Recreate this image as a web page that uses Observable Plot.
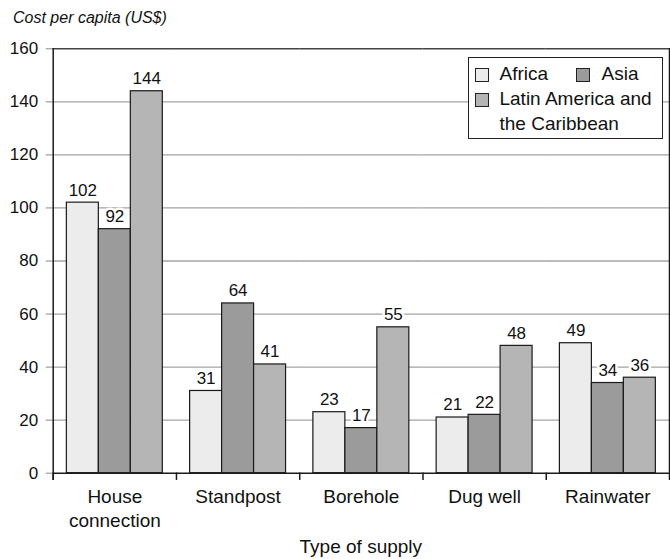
<!DOCTYPE html>
<html><head><meta charset="utf-8">
<script src="https://cdn.jsdelivr.net/npm/d3@7"></script>
<script src="https://cdn.jsdelivr.net/npm/@observablehq/plot@0.6"></script>
<style>
body{margin:0;background:#fff;}
#wrap{position:relative;width:670px;height:559px;font-family:"Liberation Sans",Arial,sans-serif;color:#111;overflow:hidden;}
#title{height:36px;font-style:italic;font-size:16px;line-height:18px;padding-left:13px;padding-top:9px;box-sizing:border-box;white-space:nowrap;}
#chart{height:490px;}
#xlabel{position:absolute;left:52.7px;width:616.3px;top:526px;padding-top:11px;font-size:19px;line-height:20px;text-align:center;}
#legend{position:absolute;left:467.7px;top:56.7px;width:195px;height:82.6px;border:1.5px solid #222;background:#fff;box-sizing:border-box;font-size:19px;}
#legend .sw{position:absolute;width:14px;height:14px;border:1px solid #222;box-sizing:border-box;}
#legend .lt{position:absolute;line-height:19px;white-space:nowrap;}
</style>
</head><body>
<div id="wrap">
  <div id="title">Cost per capita (US$)</div>
  <div id="chart"></div>
  <div id="xlabel"></div>
  <div id="legend"></div>
</div>
<script>
const categories = ["House connection", "Standpost", "Borehole", "Dug well", "Rainwater"];
const categoryLabels = ["House\nconnection", "Standpost", "Borehole", "Dug well", "Rainwater"];
const regions = ["Africa", "Asia", "Latin America and the Caribbean"];
const africa = [102, 31, 23, 21, 49];
const asia = [92, 64, 17, 22, 34];
const latinAmerica = [144, 41, 55, 48, 36];
const yTicks = [0, 20, 40, 60, 80, 100, 120, 140, 160];
const regionColors = ["#ececec", "#9b9b9b", "#b5b5b5"];
const xTitle = "Type of supply";

const series = [africa, asia, latinAmerica];
const rows = categories.flatMap((c, i) => regions.map((r, j) => ({type: c, region: r, value: series[j][i]})));

const H = 490, mT = 12.3, mB = 53.3, mL = 52.7, mR = 1;
const innerH = H - mT - mB;
const narrow = "'Liberation Sans Narrow', 'Arial Narrow', 'Liberation Sans', Arial, sans-serif";
const dark = "#1a1a1a";

const chart = Plot.plot({
  width: 670, height: H,
  marginTop: mT, marginBottom: mB, marginLeft: mL, marginRight: mR,
  style: {fontFamily: "'Liberation Sans', Arial, sans-serif", fontSize: "19px", color: "#111", background: "white", overflow: "visible"},
  fx: {domain: categories, padding: 0, round: false},
  x: {domain: regions, paddingInner: 0, paddingOuter: 0.427, round: false, axis: null},
  y: {domain: [0, 160]},
  color: {domain: regions, range: regionColors},
  marks: [
    Plot.ruleY(yTicks.filter(t => t > 0 && t < 160), {stroke: "#a3a3a3", strokeWidth: 1.3}),
    Plot.barY(rows, {fx: "type", x: "region", y: "value", fill: "region", stroke: dark, strokeWidth: 1.2}),
    Plot.ruleY([160], {stroke: "#444", strokeWidth: 1.5}),
    Plot.ruleY([0], {stroke: dark, strokeWidth: 1.5}),
    Plot.text(rows, {fx: "type", x: "region", y: "value", text: d => String(d.value), dy: -7, lineAnchor: "bottom",
      fontSize: 17, fontFamily: narrow, fill: "#111", stroke: "white", strokeWidth: 5}),
    Plot.axisY({ticks: yTicks, tickSize: 7, tickPadding: 8, fontSize: 17, fontFamily: narrow, stroke: "#888", label: null}),
    Plot.frame({anchor: "left", facetAnchor: "left", insetBottom: -6, stroke: dark, strokeWidth: 1.5}),
    Plot.frame({anchor: "right", facetAnchor: "right", insetBottom: -6, stroke: dark, strokeWidth: 1.5}),
    Plot.frame({anchor: "left", insetTop: innerH, insetBottom: -6, stroke: dark, strokeWidth: 1.5}),
    Plot.axisFx({anchor: "bottom", tickSize: 0, tickPadding: 13, label: null, fontSize: 19, lineHeight: 1.26,
      tickFormat: d => categoryLabels[categories.indexOf(d)]})
  ]
});
document.getElementById("chart").appendChild(chart);
document.getElementById("xlabel").textContent = xTitle;

// legend
const legend = document.getElementById("legend");
const items = [
  {i: 0, sx: 6.5, sy: 10.1, tx: 30.8, ty: 6, text: "Africa"},
  {i: 1, sx: 107.8, sy: 10.1, tx: 132.8, ty: 6, text: "Asia"},
  {i: 2, sx: 6.5, sy: 35.1, tx: 30.8, ty: 31, text: "Latin America and"},
  {i: -1, tx: 30.8, ty: 56, text: "the Caribbean"}
];
for (const it of items) {
  if (it.i >= 0) {
    const s = document.createElement("div");
    s.className = "sw";
    s.style.left = it.sx + "px"; s.style.top = it.sy + "px";
    s.style.background = regionColors[it.i];
    legend.appendChild(s);
  }
  const t = document.createElement("div");
  t.className = "lt";
  t.style.left = it.tx + "px"; t.style.top = it.ty + "px";
  t.textContent = it.text;
  legend.appendChild(t);
}
</script>
</body></html>
